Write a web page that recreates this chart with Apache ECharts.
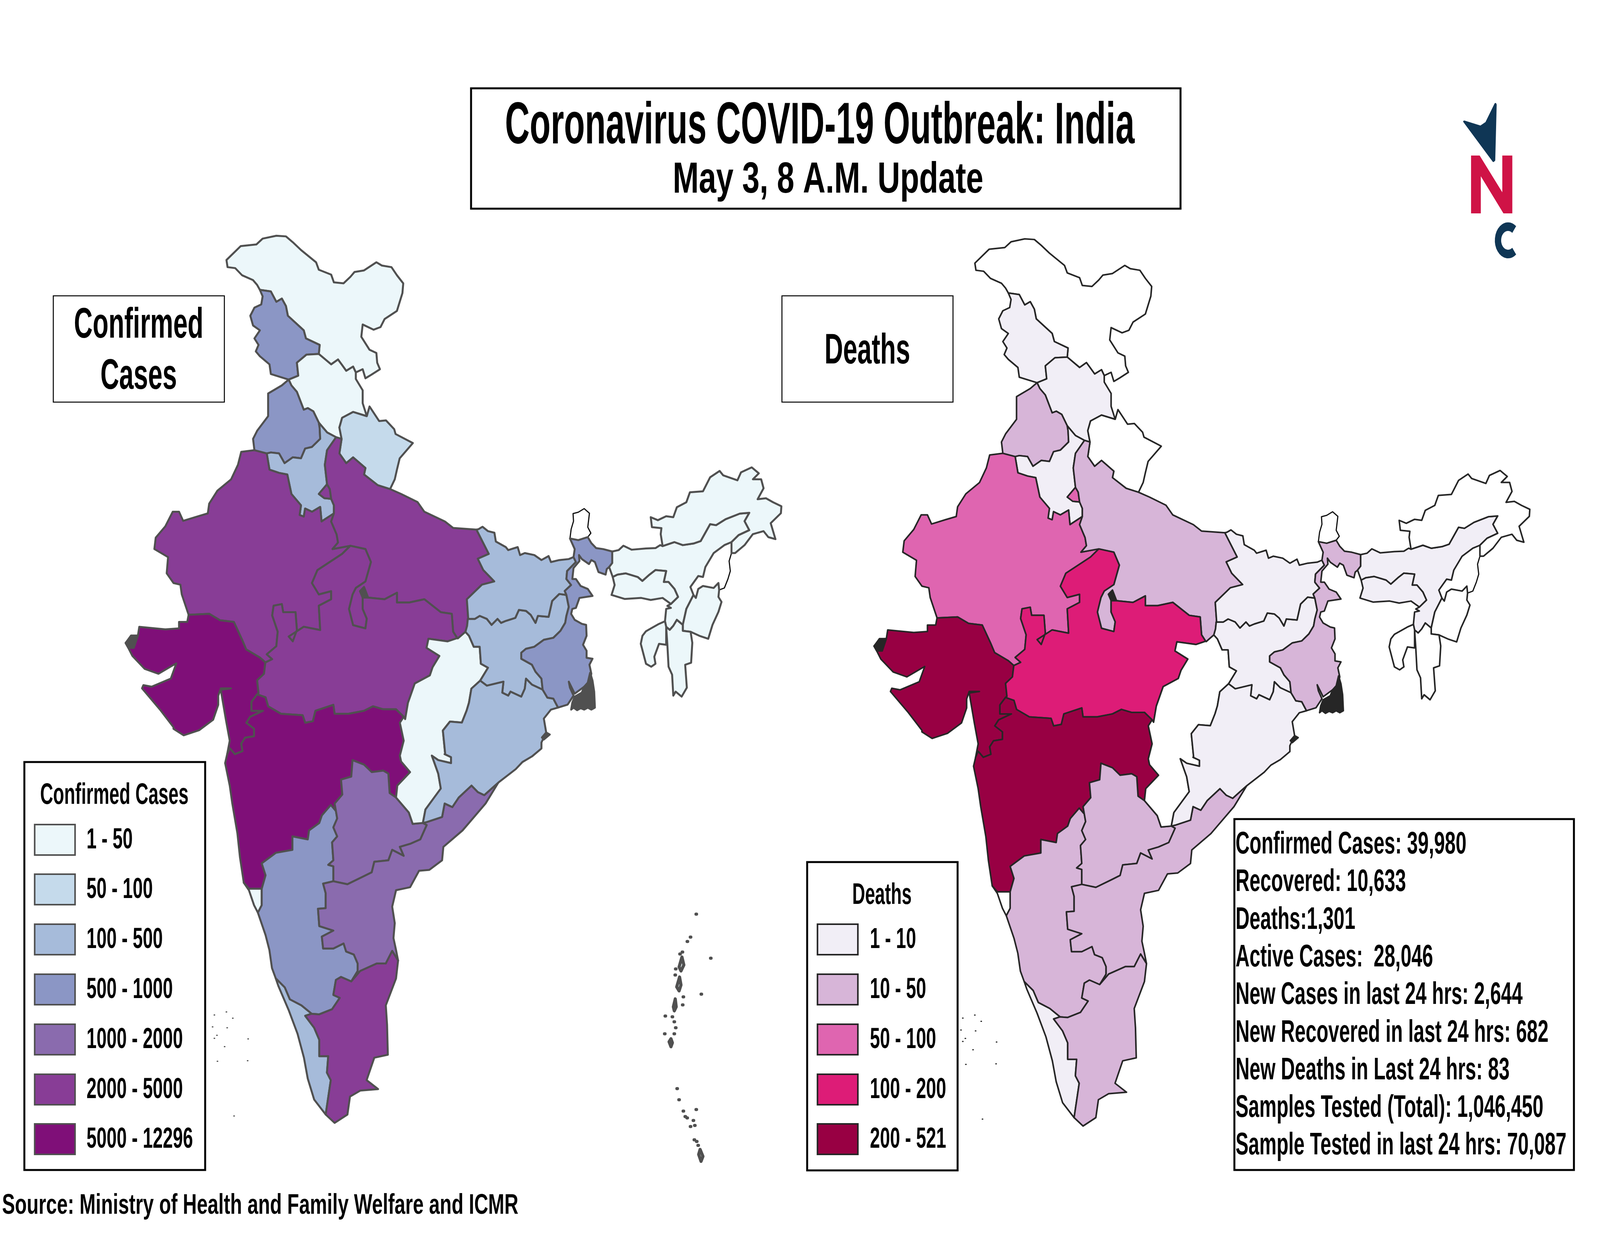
<!DOCTYPE html>
<html>
<head>
<meta charset="utf-8">
<title>Coronavirus COVID-19 Outbreak: India</title>
<script src="https://cdn.jsdelivr.net/npm/echarts@6/dist/echarts.min.js"></script>
<style>
html,body{margin:0;padding:0;width:100%;height:100%;overflow:hidden;background:#fff;}
#main{width:100vw;height:100vh;}
</style>
</head>
<body>
<div id="main"></div>
<script>
// legend classes
var casesLabels = ['1 - 50','50 - 100','100 - 500','500 - 1000','1000 - 2000','2000 - 5000','5000 - 12296'];
var casesColors = ['#ECF7FA','#C5DAEB','#A6BBDA','#8B96C5','#8A6BAE','#883D96','#7F0F78'];
var deathsLabels = ['1 - 10','10 - 50','50 - 100','100 - 200','200 - 521'];
var deathsColors = ['#F1EEF6','#D7B5D8','#DF65B0','#DD1C77','#980043'];

var stateNames = ['Sikkim','Nagaland','Ladakh','Jammu and Kashmir','Himachal Pradesh','Punjab','Haryana','Delhi','Uttarakhand','Rajasthan','Uttar Pradesh','Gujarat','Madhya Pradesh','Maharashtra','Goa','Karnataka','Telangana','Andhra Pradesh','Kerala','Tamil Nadu','Chhattisgarh','Jharkhand','Bihar','Odisha','West Bengal','Assam','Meghalaya','Arunachal Pradesh','Manipur','Mizoram','Tripura','Andaman and Nicobar','Lakshadweep'];
// index into the legend, -1 is no data (white)
var casesClass  = [-1,-1,0,3,0,3,2,5,1,5,5,6,5,6,0,3,4,4,2,5,0,2,2,2,3,0,0,0,0,0,0,0,-1];
var deathsClass = [-1,-1,-1,0,0,1,0,2,-1,2,1,4,3,4,-1,1,1,1,0,1,-1,0,0,0,1,0,0,-1,-1,-1,-1,-1,-1];

var statsLines = ['Confirmed Cases: 39,980','Recovered: 10,633','Deaths:1,301','Active Cases:  28,046','New Cases in last 24 hrs: 2,644','New Recovered in last 24 hrs: 682','New Deaths in Last 24 hrs: 83','Samples Tested (Total): 1,046,450','Sample Tested in last 24 hrs: 70,087'];

// outlines were traced on crops of the picture, each crop has its own scale
function crop(x,y,w,h){
	return function(pts){
		return pts.map(function(p){ return [x+p[0]*w/1568, -(y+p[1]*h/1568)]; });
	};
}
var z1 = crop(400,580,1500,1300);
var z2 = crop(1500,1150,1300,800);
var z3 = crop(400,1750,1400,1200);
var z7 = crop(2200,2250,522.67,800);
function rev(a){ return a.slice().reverse(); }

// shared borders
var ladakhOuter = z1([[530,195],[520,180],[505,165],[465,150],[440,128],[412,125],[408,103],[460,60],[517,55],[540,37],[590,28],[625,30],[650,48],[680,72],[735,110],[745,133],[790,148],[800,172],[835,175],[860,155],[875,140],[910,135],[955,110],[975,120],[1010,125],[1030,150],[1053,175],[1050,205],[1030,260],[985,285],[970,310],[945,318],[905,302],[900,340],[930,380],[955,390],[958,420],[968,440],[935,458],[915,468],[905,440],[880,450]]);
var ladakhHp = z1([[880,450],[870,432],[845,445],[828,425],[815,410],[790,425],[745,393]]);
var ladakhJk = z1([[745,393],[748,365],[698,345],[690,320],[632,275],[625,245],[610,222],[590,232],[570,200],[530,195]]);
var jkHp = z1([[745,393],[700,395],[665,420],[670,460],[635,472]]);
var jkWest = z1([[635,472],[570,455],[565,425],[530,400],[515,385],[525,365],[510,345],[530,320],[505,305],[495,275],[510,250],[535,240],[540,215],[530,195]]);
var hpPunjab = z1([[635,472],[645,490],[665,510],[690,565],[705,560],[725,570],[745,605]]);
var hpHaryana = z1([[745,605],[775,635],[808,650]]);
var hpUp = z1([[808,650],[828,655]]);
var hpUk = z1([[828,655],[820,620],[830,590],[870,572],[920,585]]);
var hpEast = z1([[920,585],[905,545],[905,505],[880,470],[880,450]]);
var punjabHaryana = z1([[745,605],[748,620],[750,655],[720,680],[695,685],[680,715],[650,712],[620,730],[600,700],[570,697],[555,700]]);
var punjabRaj = z1([[555,700],[510,690]]);
var punjabWest = z1([[510,690],[505,655],[520,630],[560,585],[560,515],[610,490],[635,472]]);
var haryanaUp = z1([[808,650],[775,690],[767,735],[775,795]]);
var delhiUp = z1([[775,795],[785,810],[790,840]]);
var delhiHaryana = z1([[775,795],[745,825],[765,838],[790,840]]);
var haryanaUp2 = z1([[790,840],[800,860],[800,885]]);
var haryanaRaj = z1([[800,885],[755,910],[750,865],[720,880],[695,870],[690,895],[675,890],[680,860],[645,825],[630,765],[600,760],[565,750],[555,700]]);
var rajWest = z1([[510,690],[462,695],[450,735],[425,780],[375,815],[345,855],[340,885],[300,895],[250,908],[235,880],[212,880],[185,925],[150,960],[145,995],[195,1020],[190,1070],[215,1100],[240,1105],[245,1135],[270,1198]]);
var rajGuj = z1([[270,1198],[345,1195],[385,1215],[435,1220],[465,1275],[480,1305],[530,1330],[550,1345]]);
var rajMp = z1([[550,1345],[575,1335],[555,1320],[590,1295],[595,1250],[575,1200],[580,1170],[610,1165],[615,1190],[660,1190],[665,1245],[650,1280],[635,1265],[690,1235],[750,1245],[745,1170],[790,1150],[790,1125],[745,1135],[720,1100],[740,1060],[830,1010],[860,985]]);
var rajUp = z1([[860,985],[795,995],[815,975],[810,950],[790,910],[800,885]]);
var mpUp = z1([[860,985],[915,995],[935,1035],[915,1095],[880,1115],[868,1135],[855,1180],[870,1230],[915,1240],[920,1210],[905,1180],[905,1120],[925,1145],[985,1150],[1030,1130],[1030,1160],[1075,1160],[1130,1150],[1190,1190],[1230,1195],[1235,1250],[1250,1270]]);
var upUk = z1([[828,655],[820,700],[845,730],[870,712],[915,745],[910,765],[960,798],[1005,810]]);
var upNepal = z1([[1005,810],[1045,825],[1105,850],[1130,880],[1205,910],[1235,930],[1320,935]]);
var upBihar = z1([[1320,935],[1335,960],[1365,1010],[1325,1025],[1345,1060],[1385,1095],[1340,1105],[1285,1150],[1290,1210]]);
var upJharkhand = z2([[160,850],[157,885],[150,915]]);
var upChh = z2([[150,915],[118,948]]);
var ukEast = z1([[920,585],[930,555],[965,600],[990,598],[1020,625],[1025,640],[1088,668],[1040,715],[1030,750],[1022,780],[1005,810]]);
var gujWest = z1([[270,1198],[265,1220],[235,1220],[235,1240],[185,1243],[90,1235],[85,1262],[60,1265],[40,1285],[50,1300],[65,1325],[110,1365],[160,1380],[210,1355],[225,1348],[205,1395],[135,1420],[105,1415],[100,1425],[165,1490],[215,1545]]);
var gujSouth = z3([[455,15],[415,15],[405,40],[405,70],[385,120],[330,155],[270,172],[230,150]]);
var gujMp = z1([[550,1345],[545,1380],[520,1400],[525,1440]]);
var gujMah = z3([[557,35],[535,60],[535,90],[580,90],[530,110],[515,130],[545,150],[545,175],[510,180],[495,200],[500,225],[470,235],[450,215],[440,235]]);
var gujCoast = z3([[440,235],[450,190],[435,120],[425,70],[415,20],[455,15]]);
var mpMah = z3([[557,35],[590,45],[600,75],[650,100],[735,105],[745,130],[775,125],[785,90],[855,70],[860,100],[915,100],[975,90],[1010,75],[1050,85],[1100,85],[1130,110]]);
var mpChh = z1([[1250,1270],[1215,1280],[1145,1272],[1138,1300],[1185,1325],[1160,1360],[1150,1385],[1095,1410],[1070,1470],[1060,1520]]);
var mahCoast = z3([[440,235],[432,265],[450,340],[460,400],[480,500],[490,580],[505,665]]);
var mahGoa = z3([[505,665],[525,685],[575,685]]);
var mahKar = z3([[575,685],[590,640],[575,600],[630,565],[695,555],[695,510],[755,520],[760,490],[800,465],[810,440],[845,405],[865,425]]);
var mahTel = z3([[865,425],[860,400],[890,370],[885,320],[925,310],[930,255],[975,270],[1005,295],[1050,290],[1070,300],[1075,365],[1100,380]]);
var mahChh = z3([[1130,110],[1115,130],[1130,190],[1115,240],[1120,260],[1155,295],[1105,340],[1100,380]]);
var goaCoast = z3([[505,665],[525,690],[545,740],[560,765]]);
var goaKar = z3([[560,765],[575,740],[575,685]]);
var karCoast = z3([[560,765],[590,840],[605,890],[615,950],[630,985]]);
var telKar = z3([[855,660],[855,610],[835,605],[855,590],[850,530],[870,510],[855,480],[870,450],[865,425]]);
var telChh = z3([[1100,380],[1150,430],[1165,468],[1205,465]]);
var telAp = z3([[1205,465],[1220,472],[1195,520],[1155,535],[1115,545],[1130,575],[1085,555],[1070,590],[1015,595],[1005,630],[970,645],[910,670],[855,660]]);
var apOdisha = z3([[1205,465],[1220,462],[1280,445],[1290,400],[1320,412],[1345,380],[1395,340],[1420,362],[1445,372],[1480,345],[1500,330]]);
var apCoast = z3([[1500,330],[1450,400],[1390,460],[1360,490],[1285,545],[1280,590],[1230,622],[1190,625],[1155,680],[1100,690],[1085,745],[1095,800],[1090,850],[1100,890],[1108,925]]);
var apTn = z3([[1108,925],[1085,893],[1060,935],[1025,935],[960,960],[925,995]]);
var apKar = z3([[925,995],[950,960],[950,935],[935,905],[905,895],[895,868],[855,885],[815,885],[810,845],[855,825],[800,810],[795,752],[825,750],[825,700],[815,668],[855,660]]);
var karTn = z3([[770,1103],[800,1105],[850,1088],[880,1050],[855,1040],[865,990],[885,980],[925,995]]);
var karKerala = z3([[630,985],[665,1015],[685,1055],[730,1075],[770,1103]]);
var keralaTn = z3([[770,1103],[745,1110],[780,1150],[800,1190],[800,1245],[835,1245],[830,1300],[845,1325],[825,1440]]);
var keralaCoast = z3([[825,1440],[780,1390],[755,1320],[740,1250],[715,1170],[680,1090],[640,1010],[630,985]]);
var tnCoast = z3([[1108,925],[1100,985],[1060,1075],[1065,1140],[1068,1240],[1015,1250],[985,1325],[1030,1355],[960,1360],[920,1380],[910,1440],[860,1468],[825,1440]]);
var biharNepal = z2([[205,400],[222,388],[245,410],[272,418],[278,462],[320,490],[330,505],[370,490],[380,530],[400,520],[440,530],[470,555],[500,535],[510,565],[545,555],[585,550],[605,540],[615,565]]);
var biharWb = z2([[615,565],[578,610],[575,650],[595,680],[568,710],[575,730]]);
var biharJh = z2([[575,730],[545,725],[515,760],[500,840],[455,835],[445,870],[425,830],[405,810],[375,805],[360,845],[320,860],[300,870],[285,850],[260,880],[240,850],[210,835],[190,850],[160,850]]);
var jhWb = z2([[575,730],[585,790],[575,835],[570,870],[550,910],[520,945],[480,955],[440,990],[405,1000],[385,1020],[385,1050],[430,1080],[445,1115],[470,1150],[475,1205]]);
var jhOdisha = z2([[475,1205],[430,1180],[405,1150],[400,1200],[385,1240],[340,1215],[330,1235],[305,1220],[310,1165],[240,1185],[212,1160]]);
var jhChh = z2([[150,915],[165,935],[185,990],[210,990],[215,1075],[245,1095],[212,1160]]);
var chhOdisha = z2([[212,1160],[175,1200],[165,1270],[155,1310],[135,1370],[85,1365],[55,1410],[60,1470],[65,1530]]);
var chhOdisha2 = z3([[1290,235],[1315,245],[1315,265],[1265,255],[1240,240],[1265,300],[1275,350],[1245,385],[1215,420],[1205,465]]);
var odishaWb = z2([[475,1205],[495,1245],[520,1250],[540,1295]]);
var odishaCoast = z2([[540,1295],[510,1305],[480,1350],[490,1420],[470,1470],[470,1500],[430,1540],[390,1568]]);
var odishaCoast2 = z3([[1568,285],[1500,330]]);
var wbNepal = z2([[615,565],[605,540],[610,500],[590,447]]);
var wbSikkim = z2([[590,447],[625,455],[665,440]]);
var sikkimNorth = z2([[665,440],[678,420],[665,390],[672,320],[650,297],[625,315],[603,322],[605,360],[595,400],[590,447]]);
var wbBhutan = z2([[665,440],[680,470],[700,495],[730,500],[768,512]]);
var wbAssam = z2([[768,512],[768,570],[755,590]]);
var wbEast = z2([[755,590],[745,600],[740,628],[710,615],[695,565],[680,555],[670,575],[640,550],[628,530],[630,560],[605,595],[600,650],[615,650],[635,685],[665,700],[685,735],[630,745],[615,795],[600,800],[595,825],[610,855],[640,875],[658,880],[660,935],[645,980],[660,1010],[660,1045],[685,1050],[672,1080],[680,1125],[670,1180],[650,1190],[610,1225],[585,1165],[590,1195],[605,1235],[580,1280],[540,1295]]);
var assamBhutan = z2([[768,512],[795,505],[815,483],[850,503],[910,497],[950,495],[970,480],[980,485]]);
var assamArun = z2([[980,485],[1030,465],[1065,480],[1110,472],[1140,460],[1180,375],[1205,380],[1245,350],[1305,322],[1345,318],[1325,360],[1345,405],[1300,430],[1270,465]]);
var assamNagaland = z2([[1270,465],[1240,480],[1195,520],[1160,590],[1150,640],[1130,635],[1097,690],[1110,730]]);
var assamManipur = z2([[1110,730],[1080,800],[1065,880]]);
var assamMizoram = z2([[1065,880],[1040,855],[1025,885],[1010,905],[995,890]]);
var assamTripura = z2([[995,890],[990,862]]);
var assamMegh = z2([[990,862],[995,800],[1015,795],[1000,785],[1015,775]]);
var meghNorth = z2([[1015,775],[1045,740],[1030,700],[1005,665],[985,665],[995,610],[950,605],[925,628],[895,660],[875,640],[825,622],[790,628],[770,640]]);
var meghStrip = z2([[770,640],[755,590]]);
var meghSouth = z2([[770,640],[778,680],[765,730],[820,750],[890,745],[930,755],[980,745],[1015,775]]);
var arunOuter = z2([[980,485],[972,425],[975,395],[935,390],[930,340],[960,355],[995,335],[1025,340],[1040,290],[1080,265],[1095,215],[1150,210],[1180,140],[1220,108],[1235,130],[1295,155],[1310,115],[1355,90],[1385,120],[1360,150],[1395,150],[1405,195],[1380,250],[1415,245],[1445,265],[1480,285],[1478,320],[1435,370],[1455,450],[1425,440],[1405,410],[1360,425],[1325,480],[1285,520],[1270,520]]);
var arunNagaland = z2([[1270,520],[1270,465]]);
var nagalandManipur = z2([[1110,730],[1120,745],[1130,700],[1150,685],[1195,695],[1215,670],[1218,705]]);
var nagalandEast = z2([[1218,705],[1240,695],[1255,650],[1265,610],[1260,560],[1270,520]]);
var manipurEast = z2([[1218,705],[1215,740],[1228,765],[1215,815],[1190,880],[1172,950],[1135,935],[1098,915]]);
var manipurMizoram = z2([[1098,915],[1065,910],[1065,880]]);
var mizoramOuter = z2([[1098,915],[1105,970],[1100,1070],[1075,1080],[1082,1195],[1060,1240],[1035,1215],[1025,1235],[1020,1130],[1005,1090],[1000,980],[995,890]]);
var tripuraOuter = z2([[990,862],[965,875],[935,895],[910,912],[895,935],[888,975],[910,1075],[932,1090],[950,1075],[945,1040],[965,975],[995,980],[995,890]]);

// islands
var andamanRings = [
	[[540,390],[560,430],[530,460],[510,440]],
	[[515,490],[530,530],[510,560],[485,540]],
	[[470,600],[480,640],[460,660],[450,640]],
	[[425,800],[440,820],[425,840],[405,815]],
	[[730,1355],[760,1390],[740,1415],[715,1380]]
];
var andamanDots = [[690,175],[630,290],[597,312],[842,396],[743,576],[366,686],[360,775],[460,775],[555,590],[548,630],[475,450],[470,480],[520,375],[545,365],[440,690],[460,715],[475,745],[490,1050],[510,1106],[555,1163],[575,1190],[595,1197],[690,1155],[660,1210],[675,1235],[630,1240],[670,1307],[695,1315],[710,1335]];
var lakshadweepDots = [[390,1107],[437,1097],[462,1118],[383,1147],[440,1150],[400,1175],[390,1185],[522,1187],[430,1213],[402,1262],[520,1260],[467,1445]];
// places where the border ink closes up into a solid patch
var sundarbans = z2([[675,1120],[685,1160],[692,1215],[695,1295],[680,1305],[665,1295],[650,1305],[635,1298],[620,1308],[605,1295],[595,1305],[600,1270],[610,1240],[640,1220],[650,1190],[665,1170]]);
var kutchCreek = z1([[40,1285],[60,1262],[85,1262],[70,1300],[50,1300]]);
var chilika = z2([[490,1420],[505,1430],[480,1455],[472,1445]]);
var rihand = z1([[895,1125],[910,1112],[925,1145],[905,1145]]);

function ring(){
	var out = [];
	for(var i=0;i<arguments.length;i++){ out = out.concat(arguments[i]); }
	out.push(out[0]);
	return out;
}
function dot(p,conv){
	var c = conv([p])[0];
	return [[[c[0]-1,c[1]],[c[0],c[1]+1],[c[0]+1,c[1]],[c[0],c[1]-1],[c[0]-1,c[1]]]];
}
var stateRings = {
	'Sikkim': ring(wbSikkim,sikkimNorth),
	'Nagaland': ring(arunNagaland,assamNagaland,nagalandManipur,nagalandEast),
	'Ladakh': ring(ladakhOuter,ladakhHp,ladakhJk),
	'Jammu and Kashmir': ring(rev(ladakhJk),jkHp,jkWest),
	'Himachal Pradesh': ring(rev(ladakhHp),rev(hpEast),rev(hpUk),rev(hpUp),rev(hpHaryana),rev(hpPunjab),rev(jkHp)),
	'Punjab': ring(hpPunjab,punjabHaryana,punjabRaj,punjabWest),
	'Haryana': ring(hpHaryana,haryanaUp,delhiHaryana,haryanaUp2,haryanaRaj,rev(punjabHaryana)),
	'Delhi': ring(delhiUp,rev(delhiHaryana)),
	'Uttarakhand': ring(hpUk,ukEast,rev(upUk)),
	'Rajasthan': ring(rajWest,rajGuj,rajMp,rajUp,haryanaRaj,punjabRaj),
	'Uttar Pradesh': ring(hpUp,upUk,upNepal,upBihar,upJharkhand,upChh,rev(mpUp),rajUp,rev(haryanaUp2),rev(delhiUp),rev(haryanaUp)),
	'Gujarat': ring(rajGuj,gujMp,gujMah,gujCoast,gujSouth,rev(gujWest)),
	'Madhya Pradesh': ring(gujMp,mpMah,rev(mpChh),rev(mpUp),rev(rajMp)),
	'Maharashtra': ring(rev(gujMah),mpMah,mahChh,rev(mahTel),rev(mahKar),rev(mahGoa),rev(mahCoast)),
	'Goa': ring(mahGoa,rev(goaKar),rev(goaCoast)),
	'Karnataka': ring(mahKar,rev(telKar),rev(apKar),rev(karTn),rev(karKerala),rev(karCoast),goaKar),
	'Telangana': ring(mahTel,telChh,telAp,telKar),
	'Andhra Pradesh': ring(apOdisha,apCoast,apTn,apKar,rev(telAp)),
	'Kerala': ring(karKerala,keralaTn,keralaCoast),
	'Tamil Nadu': ring(karTn,rev(apTn),tnCoast,rev(keralaTn)),
	'Chhattisgarh': ring(rev(upChh),jhChh,chhOdisha,chhOdisha2,rev(telChh),rev(mahChh),rev(mpChh)),
	'Jharkhand': ring(rev(biharJh),jhWb,jhOdisha,rev(jhChh),rev(upJharkhand)),
	'Bihar': ring(biharNepal,biharWb,biharJh,rev(upBihar)),
	'Odisha': ring(rev(chhOdisha2),rev(chhOdisha),rev(jhOdisha),odishaWb,odishaCoast,odishaCoast2,rev(apOdisha)),
	'West Bengal': ring(wbNepal,wbSikkim,wbBhutan,wbAssam,wbEast,rev(odishaWb),rev(jhWb),rev(biharWb)),
	'Assam': ring(assamBhutan,assamArun,assamNagaland,assamManipur,assamMizoram,assamTripura,assamMegh,meghNorth,meghStrip,rev(wbAssam)),
	'Meghalaya': ring(meghNorth,meghSouth),
	'Arunachal Pradesh': ring(arunOuter,arunNagaland,rev(assamArun)),
	'Manipur': ring(rev(assamManipur),nagalandManipur,manipurEast,manipurMizoram),
	'Mizoram': ring(rev(assamMizoram),rev(manipurMizoram),mizoramOuter),
	'Tripura': ring(rev(assamTripura),tripuraOuter)
};
var features = stateNames.map(function(name){
	var geometry;
	if(name=='Andaman and Nicobar'){
		geometry = {type:'MultiPolygon',coordinates:andamanRings.map(function(r){ var c=z7(r); c.push(c[0]); return [c]; }).concat(andamanDots.map(function(p){ return dot(p,z7); }))};
	}else if(name=='Lakshadweep'){
		geometry = {type:'MultiPolygon',coordinates:lakshadweepDots.map(function(p){ return dot(p,z3); })};
	}else{
		geometry = {type:'Polygon',coordinates:[stateRings[name]]};
	}
	return {type:'Feature',properties:{name:name},geometry:geometry};
});
var inkPatches = {'Sundarbans':sundarbans,'Kutch Creek':kutchCreek,'Chilika':chilika,'Rihand':rihand};
Object.keys(inkPatches).forEach(function(name){
	var c = inkPatches[name].slice(); c.push(c[0]);
	features.push({type:'Feature',properties:{name:name},geometry:{type:'Polygon',coordinates:[c]}});
});
var geoJson = {type:'FeatureCollection',features:features};
echarts.registerMap('indiaCases',geoJson);
echarts.registerMap('indiaDeaths',geoJson);

var myChart = echarts.init(document.getElementById('main'));
// everything below is laid out on the 5584x3168 picture and fitted to the window
var sx = myChart.getWidth()/5584;
var sy = myChart.getHeight()/3168;
function px(x){ return x*sx; }
function py(y){ return y*sy; }

function mapSeries(mapName,classes,colors,ink,lineWidth,left,top){
	var data = stateNames.map(function(name,i){
		var k = classes[i];
		var item = {name:name,value:k,itemStyle:{areaColor:k<0?'#fff':colors[k],borderColor:ink,borderWidth:lineWidth}};
		if(name=='Sikkim'||name=='Nagaland'){ item.itemStyle.borderColor='#111'; item.itemStyle.borderWidth=3; }
		if(name=='Lakshadweep'){ item.itemStyle.borderWidth=3; item.itemStyle.borderColor=ink; }
		if(name=='Andaman and Nicobar'){ item.itemStyle.borderWidth=8; }
		return item;
	});
	Object.keys(inkPatches).forEach(function(name){
		data.push({name:name,value:-1,itemStyle:{areaColor:ink,borderColor:ink,borderWidth:lineWidth}});
	});
	return {
		type:'map',
		map:mapName,
		silent:true,
		roam:false,
		aspectScale:sx/sy,
		boundingCoords:[[300,-500],[2900,-3100]],
		left:px(left),
		top:py(top),
		width:px(2600),
		height:py(2600),
		label:{show:false},
		emphasis:{disabled:true},
		itemStyle:{borderJoin:'round'},
		data:data
	};
}

var measure = document.createElement('canvas').getContext('2d');
// size is the font size, width the text width in the picture
function text(str,x,y,size,width,align){
	var font = 'bold '+Math.round(size*sy)+'px "Liberation Sans",Arial';
	measure.font = font;
	return {
		type:'text',z:20,x:px(x),y:py(y),
		scaleX:px(width)/measure.measureText(str).width,
		style:{text:str,x:0,y:0,font:font,fill:'#000',textAlign:align||'left',textVerticalAlign:'middle'}
	};
}
function box(x,y,w,h,lw){
	return {type:'rect',z:10,shape:{x:px(x),y:py(y),width:px(w),height:py(h)},style:{fill:'#fff',stroke:'#000',lineWidth:lw}};
}
var rowY = [2149,2276,2404,2532,2660,2788,2915];
// narrowed like the labels of the picture: 5000 - 12296 is 371 wide
function labelWidth(label){
	measure.font = 'bold 75px "Liberation Sans",Arial';
	return measure.measureText(label).width*0.84;
}
function legend(labels,colors,ink,swatchX,labelX,rows){
	var out = [];
	labels.forEach(function(label,i){
		out.push({type:'rect',z:11,shape:{x:px(swatchX),y:py(rows[i]-39),width:px(141),height:py(78)},style:{fill:colors[i],stroke:ink,lineWidth:4}});
		out.push(text(label,labelX,rows[i]+1,75,labelWidth(label)));
	});
	return out;
}

var graphicItems = [];
graphicItems.push(box(1644,226,2476,308,5));
graphicItems.push(text('Coronavirus COVID-19 Outbreak: India',2861,326,150,2197,'center'));
graphicItems.push(text('May 3, 8 A.M. Update',2890,462,112,1084,'center'));
graphicItems.push(box(186,757,597,272,2.5));
graphicItems.push(text('Confirmed',484,834,110,452,'center'));
graphicItems.push(text('Cases',484,965,110,267,'center'));
graphicItems.push(box(2729,757,597,272,2.5));
graphicItems.push(text('Deaths',3027,900,110,299,'center'));
graphicItems.push(box(85,1950,631,1044,5));
graphicItems.push(text('Confirmed Cases',399,2036,76,518,'center'));
graphicItems = graphicItems.concat(legend(casesLabels,casesColors,'#505050',121,302,rowY));
graphicItems.push(box(2817,2206,525,789,5));
graphicItems.push(text('Deaths',3078,2292,76,207,'center'));
graphicItems = graphicItems.concat(legend(deathsLabels,deathsColors,'#262626',2853,3036,rowY.slice(2)));
graphicItems.push(box(4308,2096,1185,898,5));
statsLines.forEach(function(line,i){
	measure.font = 'bold 80px "Liberation Sans",Arial';
	graphicItems.push(text(line,4312,2162+i*96.3,80,measure.measureText(line).width*0.847));
});
graphicItems.push(text('Source: Ministry of Health and Family Welfare and ICMR',7,3086,72,1802));
// logo
function pts(list){ return list.map(function(p){ return [px(p[0]),py(p[1])]; }); }
graphicItems.push({type:'polygon',z:10,shape:{points:pts([[5110,311],[5167,324],[5187,314],[5219,266],[5220,268],[5215,410],[5212,412]])},style:{fill:'#0F3655',stroke:'#0F3655',lineWidth:5,lineJoin:'round'}});
graphicItems.push({type:'polygon',z:10,shape:{points:pts([[5134,398],[5164,398],[5243,492],[5243,398],[5278,398],[5278,546],[5247,546],[5168,451],[5168,546],[5134,546]])},style:{fill:'#CF1346'}});
graphicItems.push({type:'arc',z:10,x:px(5263),y:py(615),scaleX:sx/sy,scaleY:1,shape:{cx:0,cy:0,r:35*sy,startAngle:52*Math.PI/180,endAngle:308*Math.PI/180,clockwise:true},style:{fill:'none',stroke:'#0F3655',lineWidth:22*sy}});

myChart.setOption({
	backgroundColor:'#fff',
	animation:false,
	tooltip:{show:false},
	series:[
		mapSeries('indiaCases',casesClass,casesColors,'#505050',5,300,500),
		mapSeries('indiaDeaths',deathsClass,deathsColors,'#262626',4,2912,508)
	],
	graphic:{elements:graphicItems}
});
</script>
</body>
</html>
